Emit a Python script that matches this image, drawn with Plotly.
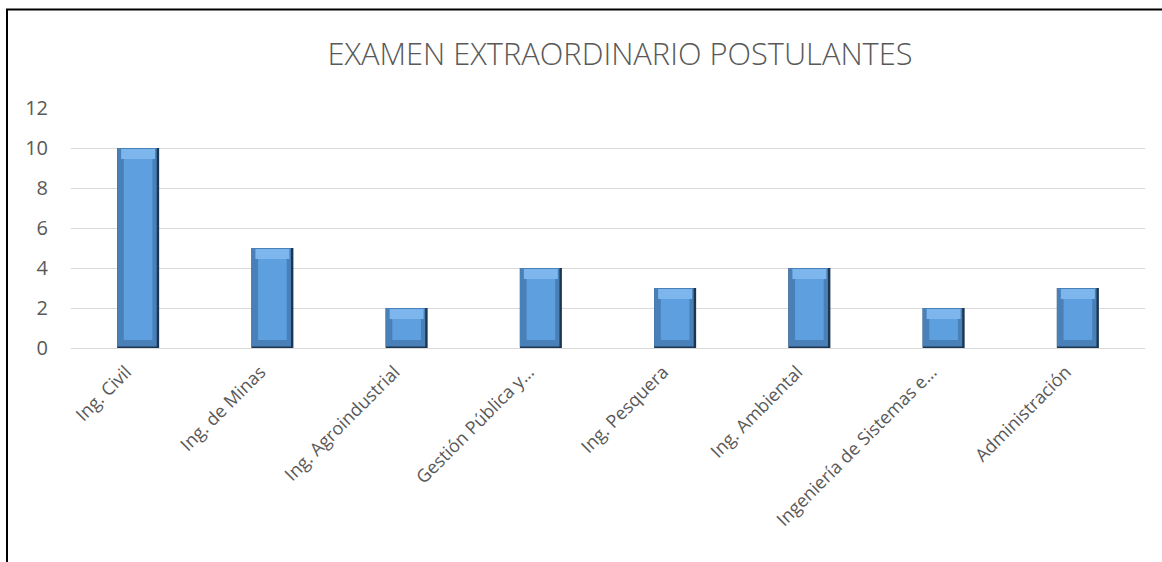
import plotly.graph_objects as go

categories = ["Ing. Civil", "Ing. de Minas", "Ing. Agroindustrial", "Gestión Pública y…",
              "Ing. Pesquera", "Ing. Ambiental", "Ingeniería de Sistemas e…", "Administración"]
values = [10, 5, 2, 4, 3, 4, 2, 3]
y_ticks = [0, 2, 4, 6, 8, 10, 12]

BW = 0.313
fig = go.Figure()
# dark outer edge (shadow side)
fig.add_trace(go.Bar(x=categories, y=values, width=BW, marker=dict(color="#1c3652", line=dict(width=0)),
                     hoverinfo="skip", showlegend=False))
# main face, left-aligned, slightly narrower
fig.add_trace(go.Bar(x=categories, y=[v - 0.08 for v in values], base=[0.08] * len(values),
                     width=BW - 0.018, offset=-BW / 2,
                     marker=dict(color="#4a80b8", line=dict(width=0)), hoverinfo="skip", showlegend=False))
# top highlight bevel
fig.add_trace(go.Bar(x=categories, y=[0.5] * len(values), base=[v - 0.55 for v in values],
                     width=BW - 0.06, marker=dict(color="#7cb6ec", line=dict(width=0)),
                     hoverinfo="skip", showlegend=False))
# inner face
fig.add_trace(go.Bar(x=categories, y=[v - 0.95 for v in values], base=[0.4] * len(values),
                     width=BW - 0.1, marker=dict(color="#5d9fdf", line=dict(width=0)),
                     hoverinfo="skip", showlegend=False))

fig.update_layout(
    barmode="overlay",
    width=1162, height=562,
    margin=dict(l=71, r=17, t=108, b=214),
    paper_bgcolor="white", plot_bgcolor="white",
    font=dict(family="Open Sans, Lato, sans-serif", color="#595959"),
    title=dict(text="EXAMEN EXTRAORDINARIO POSTULANTES", x=620 / 1162, xanchor="center",
               xref="container", y=1 - 54 / 562, yanchor="middle", yref="container",
               font=dict(size=30.8, color="#595959", family="Open Sans, sans-serif", weight=300)),
    xaxis=dict(tickangle=-45, tickfont=dict(size=18, color="#595959"), showgrid=False,
               showline=False, ticks="", ticklabelstandoff=9, ticklabelshift=-12),
    yaxis=dict(range=[0, 12], tickvals=y_ticks, tickfont=dict(size=20, color="#595959"),
               showgrid=True, gridcolor="#d9d9d9", gridwidth=1, zeroline=True,
               zerolinecolor="#d9d9d9", zerolinewidth=1, ticks="", ticklabelstandoff=22),
    shapes=[dict(type="rect", xref="paper", yref="paper",
                 x0=(7 - 71) / 1074, x1=(1175 - 71) / 1074,
                 y0=(348 - 575) / 240, y1=(348 - 9.5) / 240,
                 line=dict(color="black", width=2), fillcolor="rgba(0,0,0,0)", layer="above")],
)

fig.write_html("out.html", config={"displayModeBar": False},
               post_script="document.body.style.margin='0';document.body.style.overflow='hidden';")
